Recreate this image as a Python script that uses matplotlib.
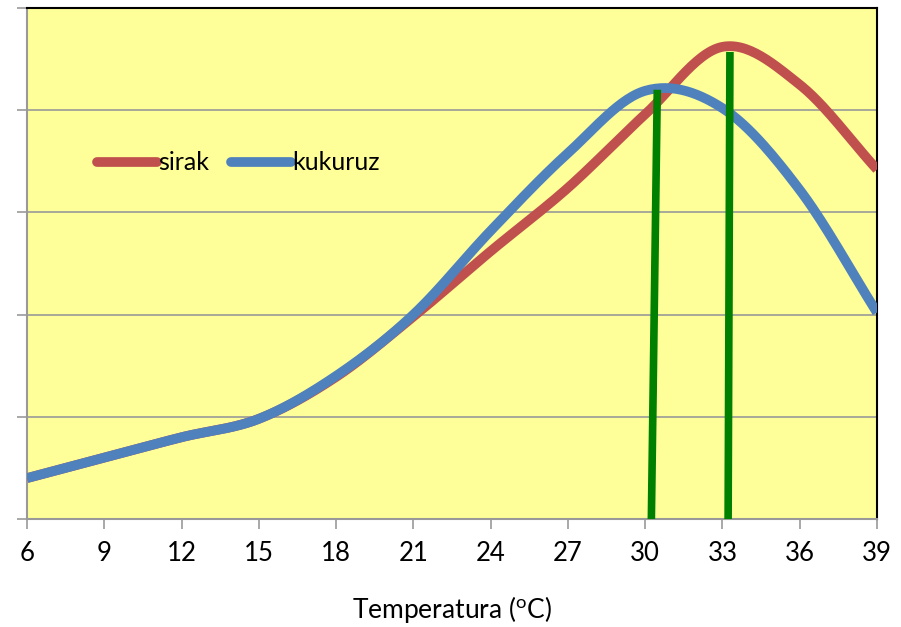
import numpy as np
import matplotlib
matplotlib.use("Agg")
import matplotlib.pyplot as plt

# ---- data ----
temps = [6, 9, 12, 15, 18, 21, 24, 27, 30, 33, 36, 39]
sirak = [0.40, 0.60, 0.80, 0.98, 1.39, 1.98, 2.62, 3.24, 3.96, 4.62, 4.25, 3.42]
kukuruz = [0.40, 0.60, 0.80, 0.98, 1.40, 2.00, 2.82, 3.58, 4.19, 4.02, 3.22, 2.02]
green_x_bottom = [30.24, 33.22]
green_x_top = [30.47, 33.29]
green_y_top = [4.20, 4.57]
xticks = [6, 9, 12, 15, 18, 21, 24, 27, 30, 33, 36, 39]
xlabel = "Temperatura ($\\mathregular{^o}$C)"

def smooth(x, y, n=30):
    # Catmull-Rom style rendering between given points (like Excel smoothed line)
    x = np.asarray(x, float); y = np.asarray(y, float)
    px = np.concatenate([[2*x[0]-x[1]], x, [2*x[-1]-x[-2]]])
    py = np.concatenate([[2*y[0]-y[1]], y, [2*y[-1]-y[-2]]])
    xs, ys = [], []
    for i in range(1, len(px)-2):
        t = np.linspace(0, 1, n, endpoint=False)
        p0, p1, p2, p3 = (np.array([px[j], py[j]]) for j in range(i-1, i+3))
        t2, t3 = t*t, t*t*t
        pts = 0.5*((2*p1)[:, None] + (-p0+p2)[:, None]*t + (2*p0-5*p1+4*p2-p3)[:, None]*t2 + (-p0+3*p1-3*p2+p3)[:, None]*t3)
        xs.append(pts[0]); ys.append(pts[1])
    xs.append([x[-1]]); ys.append([y[-1]])
    return np.concatenate(xs), np.concatenate(ys)

plt.rcParams['font.family'] = ['Lato', 'DejaVu Sans']
plt.rcParams['mathtext.fontset'] = 'custom'
plt.rcParams['mathtext.rm'] = 'Lato'

fig = plt.figure(figsize=(9.01, 6.27), dpi=100)
ax = fig.add_axes([27/901, 1-519/627, 850/901, 511/627])
ax.set_facecolor('#FFFF99')

ax.set_xlim(6, 39)
ax.set_ylim(0, 5)
ax.set_yticks([0, 1, 2, 3, 4, 5])
ax.set_yticklabels([])
ax.set_xticks(xticks)
ax.set_xticklabels([str(t) for t in xticks], fontsize=18.5)
ax.grid(axis='y', color='#999999', linewidth=1.2)
ax.set_axisbelow(True)
ax.tick_params(axis='y', length=7, color='#999999', width=1.2)
ax.tick_params(axis='x', length=7, color='#999999', width=1.2, pad=9)
for s in ['left', 'bottom']:
    ax.spines[s].set_color('#999999')
    ax.spines[s].set_linewidth(1.5)
for s in ['top', 'right']:
    ax.spines[s].set_color('black')
    ax.spines[s].set_linewidth(1.5)

sx, sy = smooth(temps, sirak)
kx, ky = smooth(temps, kukuruz)
ax.plot(sx, sy, color='#C0504D', linewidth=7, solid_capstyle='butt', label='sirak', zorder=3)
ax.plot(kx, ky, color='#4F81BD', linewidth=7, solid_capstyle='butt', label='kukuruz', zorder=4)

for xb, xt, yt in zip(green_x_bottom, green_x_top, green_y_top):
    ax.plot([xb, xt], [0, yt], color='#008000', linewidth=5.5, solid_capstyle='butt', zorder=5)

ax.set_xlabel(xlabel, fontsize=19, labelpad=20)

leg = ax.legend(loc='center left', bbox_to_anchor=(0.082, 0.697), ncol=2, frameon=False,
                fontsize=18, handlelength=2.4, handletextpad=0.05, columnspacing=0.9,
                borderpad=0, borderaxespad=0)
for h in leg.get_lines():
    h.set_solid_capstyle('round')
    h.set_linewidth(7)

fig.savefig('out.png', dpi=100)
